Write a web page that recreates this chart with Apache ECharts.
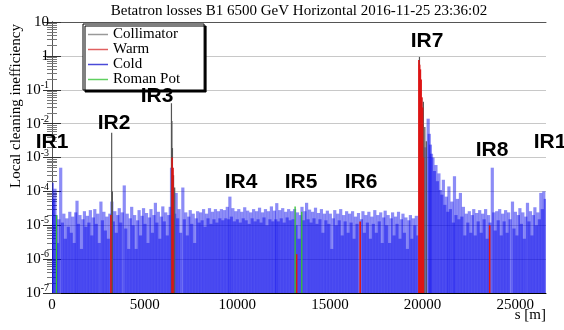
<!DOCTYPE html>
<html>
<head>
<meta charset="utf-8">
<script src="https://cdn.jsdelivr.net/npm/echarts@6/dist/echarts.min.js"></script>
<style>
  html, body { margin: 0; padding: 0; background: #fff; }
  #main { width: 564px; height: 330px; }
</style>
</head>
<body>
<div id="main"></div>
<script>
// LHC ring, s in metres
const sMax = 26659;
const yMin = 1e-7, yMax = 10;
const xTicks = [0, 5000, 10000, 15000, 20000, 25000];

// [s, inefficiency]
const cold = [
  [20,1.8e-4],[90,6e-5],[160,1.2e-4],[230,2e-5],[300,3e-6],[370,1.5e-5],[470,5e-4],[560,1.2e-5],[640,2.2e-5],[720,4e-6],[800,1.6e-5],[880,9e-6],[960,2.5e-5],
  [1040,6e-6],[1120,1.8e-5],[1200,3e-6],[1280,2.4e-5],[1350,5.3e-5],[1430,1.1e-5],[1510,2e-5],[1590,2e-6],[1670,1.5e-5],[1750,2.6e-5],[1830,9e-6],[1910,1.9e-5],[1990,1.2e-5],
  [2070,2.8e-5],[2150,5e-6],[2230,1.7e-5],[2310,3e-5],[2390,1.1e-5],[2470,2.2e-5],[2550,3e-6],[2640,5e-5],[2720,1.4e-5],[2800,2.5e-5],[2880,7e-6],[2960,1.8e-5],
  [3040,4e-6],[3120,2.2e-5],[3230,5e-5],[3310,1.3e-5],[3390,2.6e-5],[3470,6e-6],[3550,2e-5],[3630,3.2e-5],[3710,1.2e-5],[3790,2.4e-5],[3900,1.5e-4],[3980,8e-6],
  [4060,2.2e-5],[4140,2e-6],[4220,1.6e-5],[4300,3.5e-5],[4380,1e-5],[4460,2e-5],[4540,2e-6],[4620,1.4e-5],[4700,2.8e-5],[4780,5e-6],[4860,1.9e-5],[4940,3.2e-5],
  [5020,1.1e-5],[5100,2.3e-5],[5180,3e-6],[5260,1.7e-5],[5340,3e-5],[5420,6e-6],[5500,2e-5],[5580,4.6e-5],[5660,1.2e-5],[5740,2.5e-5],[5820,4e-6],[5900,1.8e-5],[5980,3.6e-5],
  [6060,1.3e-5],[6140,2.4e-5],[6220,5e-6],[6300,2e-5],[6380,3.5e-5],[6450,5e-4],[6530,1.5e-5],[6620,2.2e-5],[6700,9e-5],[6780,1.6e-5],[6860,3e-5],[6940,6e-6],
  [7060,1.3e-4],[7140,1.5e-5],[7220,2.4e-5],[7300,5e-6],[7380,1.8e-5],[7460,2.8e-5],[7540,1.1e-5],[7620,2.2e-5],[7700,3e-6],[7780,1.6e-5],[7860,2.6e-5],[7940,1.2e-5],
  [8020,2.4e-5],[8100,1.4e-5],[8180,3e-5],[8260,9e-6],[8340,2.2e-5],[8420,1.6e-5],[8500,3.2e-5],[8580,1.1e-5],[8660,2.5e-5],[8740,1.5e-5],[8820,3e-5],[8900,1.2e-5],[8980,2.6e-5],
  [9060,1.6e-5],[9140,3e-5],[9220,1.4e-5],[9300,2.8e-5],[9380,1.6e-5],[9460,3.5e-5],[9540,1.5e-5],[9600,7e-5],[9680,1.8e-5],[9760,3.2e-5],[9840,1.3e-5],[9920,2.6e-5],
  [10000,1.5e-5],[10080,3e-5],[10160,1.2e-5],[10240,2.5e-5],[10320,1.6e-5],[10400,3.4e-5],[10480,1.4e-5],[10560,2.7e-5],[10640,1.1e-5],[10720,2.4e-5],[10800,1.6e-5],[10880,3e-5],[10960,1.3e-5],
  [11040,2.6e-5],[11120,1.5e-5],[11200,3.3e-5],[11280,1.2e-5],[11360,2.4e-5],[11440,1.7e-5],[11520,3e-5],[11600,1e-5],[11680,2.6e-5],[11760,1.5e-5],[11840,3.6e-5],[11920,1.3e-5],
  [12000,2.7e-5],[12080,1.5e-5],[12130,4.5e-5],[12210,1.3e-5],[12290,2.8e-5],[12370,1.6e-5],[12450,3.2e-5],[12530,1.2e-5],[12610,2.5e-5],[12690,1.7e-5],[12770,3e-5],[12850,1.4e-5],[12930,2.6e-5],
  [13010,1.5e-5],[13090,3e-5],[13170,1e-5],[13250,2.4e-5],[13330,4e-6],[13410,2e-5],[13490,3.5e-5],[13570,1.4e-5],[13650,2.6e-5],[13740,4.6e-5],[13820,1.5e-5],[13900,2.9e-5],
  [13980,1.2e-5],[14060,2.5e-5],[14140,1.6e-5],[14220,3.3e-5],[14300,1.1e-5],[14380,2.3e-5],[14460,1.5e-5],[14540,3e-5],[14620,6e-6],[14700,2.2e-5],[14780,1.4e-5],[14860,2.7e-5],[14940,1.1e-5],
  [15020,2.2e-5],[15100,2e-6],[15180,1.6e-5],[15260,2.8e-5],[15340,1e-5],[15420,2.2e-5],[15500,1.4e-5],[15580,3e-5],[15660,5e-6],[15740,2e-5],[15820,1.3e-5],[15900,2.6e-5],[15980,6e-6],
  [16060,2.2e-5],[16140,1.2e-5],[16220,2.6e-5],[16300,4e-6],[16380,1.8e-5],[16460,1.1e-5],[16540,2.3e-5],[16700,1.5e-5],[16780,2.6e-5],[16860,6e-6],[16940,2e-5],
  [17020,1.2e-5],[17100,2.5e-5],[17180,4e-6],[17260,1.8e-5],[17340,1.1e-5],[17420,2.8e-5],[17500,6e-6],[17580,2e-5],[17660,1.3e-5],[17740,2.4e-5],[17820,3e-6],[17900,1.7e-5],[17980,2.7e-5],
  [18060,1e-5],[18140,2e-5],[18220,3e-6],[18300,1.6e-5],[18380,2.4e-5],[18460,5e-6],[18540,1.8e-5],[18620,1.1e-5],[18700,2.5e-5],[18780,4e-6],[18860,1.5e-5],[18940,2.2e-5],
  [19020,6e-6],[19100,1.7e-5],[19180,2e-6],[19260,1.4e-5],[19340,2e-5],[19420,4e-6],[19500,1.6e-5],[19580,1e-5],[19660,1.9e-5],[19740,5e-6],
  [20150,2e-3],[20300,1.4e-2],[20360,5e-3],[20420,2.4e-3],[20480,1.3e-3],[20560,1e-3],[20640,4e-4],[20720,6e-4],[20800,2e-4],[20880,3.4e-4],[20960,1.1e-4],
  [21040,8e-5],[21120,2.2e-4],[21200,4e-5],[21280,7e-5],[21360,2.5e-5],[21420,1.4e-4],[21500,3e-5],[21580,5e-5],[21660,1.2e-5],[21720,2.8e-4],[21800,2e-5],[21880,6e-5],[21960,1.5e-5],
  [22040,9e-5],[22120,1.8e-5],[22200,3.5e-5],[22280,5e-6],[22360,2.2e-5],[22440,1.2e-5],[22520,2.6e-5],[22600,6e-6],[22680,2e-5],[22760,3e-5],[22840,5e-6],[22920,2.3e-5],
  [23000,1.3e-5],[23080,2.8e-5],[23160,6e-6],[23240,2.2e-5],[23320,1.5e-5],[23400,3e-5],[23480,4e-6],[23560,2e-5],[23640,1.2e-5],[23760,5e-4],[23840,2.4e-5],[23920,7e-6],
  [24000,2.6e-5],[24080,1.4e-5],[24160,3e-5],[24240,5e-6],[24320,2.2e-5],[24400,1.3e-5],[24480,2.8e-5],[24560,6e-6],[24640,2.4e-5],[24720,1.5e-5],[24850,5e-5],[24930,8e-6],
  [25010,2.5e-5],[25090,5e-6],[25170,2e-5],[25250,3.2e-5],[25330,1.1e-5],[25410,2.4e-5],[25490,4e-6],[25570,1.8e-5],[25660,4.6e-5],[25740,1.3e-5],[25820,2.6e-5],[25900,5e-6],
  [25980,2e-5],[26060,3.4e-5],[26140,1e-5],[26220,2.4e-5],[26300,1.5e-5],[26380,9e-5],[26460,3e-5],[26540,1e-4],[26620,6e-5]
];

const collimator = [
  [3220,5.4e-3],[3260,1e-4],
  [6446,4e-2],[6470,1.2e-2],[6500,1.9e-3],[6560,3e-4],[6620,1.3e-4],
  [19830,0.93],[19870,0.3],[19950,0.057],[20040,0.044],[20120,8e-3],[20200,3e-3]
];

const warm = [
  [3180,2e-5],
  [6480,1e-3],[6530,5e-4],
  [13200,1.4e-6],[16630,1.3e-5],
  [19800,0.75],[19840,0.55],[19880,0.4],[19920,0.2],[19960,0.06],[20000,0.03],[20040,1e-3],
  [23620,1e-5]
];

const romanPot = [
  [240,2e-5],[13120,3.6e-5],[13480,2.5e-5]
];

const irNames = ['IR1', 'IR2', 'IR3', 'IR4', 'IR5', 'IR6', 'IR7', 'IR8', 'IR1'];
const legendColors = { 'Collimator': '#999', 'Warm': '#e06060', 'Cold': '#4a4ad8', 'Roman Pot': '#60d060' };

const serif = 'Liberation Serif';
const myChart = echarts.init(document.getElementById('main'));

function lossBar(color, width) {
  return function (params, api) {
    const top = api.coord([api.value(0), api.value(1)]);
    const bot = api.coord([api.value(0), yMin]);
    return {
      type: 'line',
      shape: { x1: top[0], y1: top[1], x2: bot[0], y2: bot[1] },
      style: { stroke: color, lineWidth: width }
    };
  };
}

function series(name, data, color, width) {
  return {
    name: name,
    type: 'custom',
    data: data,
    encode: { x: 0, y: 1 },
    itemStyle: { color: legendColors[name] },
    renderItem: lossBar(color, width),
    clip: true
  };
}

// IR label spots in pixels
const irPos = [[52, 142], [114, 123], [157, 96], [241, 182], [301, 182], [361, 182], [427, 41], [492, 150], [550, 142]];

const yAxisBase = {
  type: 'log',
  logBase: 10,
  min: yMin,
  max: yMax,
  splitNumber: 8,
  axisLine: { show: true, lineStyle: { color: '#000' } },
  axisTick: { show: true, inside: true, length: 9, lineStyle: { color: '#333' } },
  minorTick: { show: true, splitNumber: 9, length: 5, lineStyle: { color: '#777' } }
};

const option = {
  animation: false,
  backgroundColor: '#fff',
  grid: { left: 52, right: 18, top: 22, bottom: 37 },
  legend: {
    orient: 'vertical',
    left: 83,
    top: 24,
    padding: [3, 24, 3, 5],
    itemGap: 0,
    itemWidth: 20,
    itemHeight: 14,
    borderColor: '#000',
    borderWidth: 1,
    backgroundColor: '#fff',
    shadowColor: '#000',
    shadowBlur: 0,
    shadowOffsetX: 2,
    shadowOffsetY: 2,
    icon: 'path://M0,6.5 L20,6.5 L20,8 L0,8 Z',
    textStyle: { fontFamily: serif, fontSize: 15, color: '#000', lineHeight: 14 },
    data: ['Collimator', 'Warm', 'Cold', 'Roman Pot'].map(n => ({ name: n, itemStyle: { color: legendColors[n] } }))
  },
  xAxis: [{
    type: 'value',
    min: 0,
    max: sMax,
    interval: 5000,
    axisLine: { show: true, onZero: false, lineStyle: { color: '#000' } },
    axisTick: { show: false },
    splitLine: { show: false },
    axisLabel: {
      showMaxLabel: false,
      margin: 5,
      fontFamily: serif,
      fontSize: 15,
      color: '#000',
      formatter: v => xTicks.indexOf(v) >= 0 ? String(v) : ''
    }
  }, {
    type: 'value',
    position: 'top',
    min: 0,
    max: sMax,
    axisLine: { show: true, onZero: false, lineStyle: { color: '#555' } },
    axisTick: { show: false },
    axisLabel: { show: false },
    splitLine: { show: false }
  }],
  yAxis: [Object.assign({}, yAxisBase, {
    position: 'left',
    splitLine: { show: true, lineStyle: { color: '#c8c8c8', width: 1 } },
    axisLabel: {
      margin: 3,
      color: '#000',
      formatter: v => {
        const e = Math.round(Math.log10(v));
        if (e === 1) return '{b|10}';
        if (e === 0) return '{b|1}';
        return '{b|10}{s|' + e + '}';
      },
      rich: {
        b: { fontFamily: serif, fontSize: 15, color: '#000' },
        s: { fontFamily: serif, fontSize: 10, color: '#000', padding: [0, 0, 9, 0] }
      }
    }
  }), Object.assign({}, yAxisBase, {
    position: 'right',
    axisLine: { show: true, lineStyle: { color: '#555' } },
    splitLine: { show: false },
    axisLabel: { show: false }
  })],
  graphic: [
    {
      type: 'text', x: 299, y: 11,
      style: { text: 'Betatron losses B1 6500 GeV Horizontal 2016-11-25 23:36:02', font: '15px "Liberation Serif"', fill: '#000', textAlign: 'center', textVerticalAlign: 'middle' }
    },
    {
      type: 'text', x: 16, y: 106, rotation: Math.PI / 2,
      style: { text: 'Local cleaning inefficiency', font: '15px "Liberation Serif"', fill: '#000', textAlign: 'center', textVerticalAlign: 'middle' }
    },
    {
      type: 'text', x: 546, y: 315,
      style: { text: 's [m]', font: '15px "Liberation Serif"', fill: '#000', textAlign: 'right', textVerticalAlign: 'middle' }
    }
  ].concat(irNames.map((n, i) => ({
    type: 'text', x: irPos[i][0], y: irPos[i][1], z: 100,
    style: { text: n, font: 'bold 21px "Liberation Sans"', fill: '#000', textAlign: 'center', textVerticalAlign: 'middle' }
  }))),
  series: [
    series('Cold', cold, 'rgba(0,0,235,0.45)', 3.2),
    series('Collimator', collimator, '#555', 1.2),
    series('Warm', warm, '#dd1515', 1.6),
    series('Roman Pot', romanPot, '#33c033', 1.3)
  ]
};

myChart.setOption(option);
</script>
</body>
</html>
